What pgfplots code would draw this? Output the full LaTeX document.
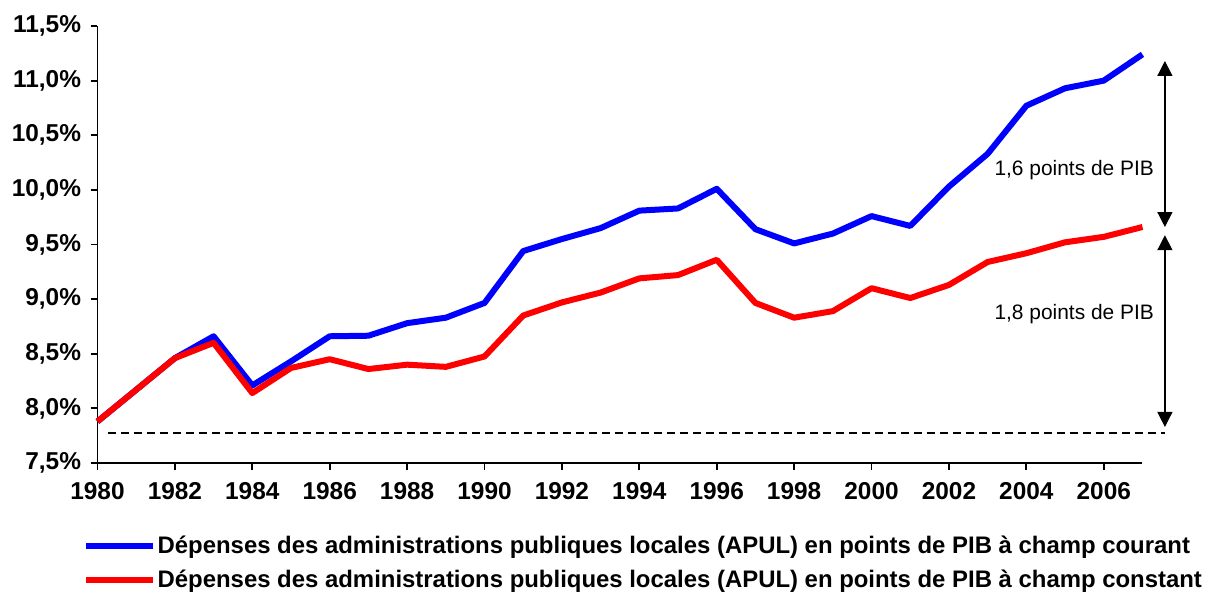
\documentclass[border=0pt]{standalone}
\usepackage{fontspec}
\setmainfont{Liberation Sans}
\usepackage{pgfplots}
\pgfplotsset{compat=1.18}
\usetikzlibrary{arrows.meta}
\definecolor{cblue}{RGB}{0,0,255}
\definecolor{cred}{RGB}{255,0,0}
\begin{document}
\begin{tikzpicture}[x=1bp,y=1bp]
\useasboundingbox (-97.5bp,-132bp) rectangle (1111.5bp,463bp);
\begin{axis}[
  at={(0,0)}, anchor=south west,
  scale only axis, width=1045bp, height=437bp,
  xmin=1980, xmax=2007, ymin=7.5, ymax=11.5,
  axis x line=bottom, axis y line=left,
  axis line style={-, line width=1.8bp, black},
  xtick={1980,1982,1984,1986,1988,1990,1992,1994,1996,1998,2000,2002,2004,2006},
  xticklabels={1980,1982,1984,1986,1988,1990,1992,1994,1996,1998,2000,2002,2004,2006},
  ytick={7.5,8,8.5,9,9.5,10,10.5,11,11.5},
  yticklabels={{7,5\%},{8,0\%},{8,5\%},{9,0\%},{9,5\%},{10,0\%},{10,5\%},{11,0\%},{11,5\%}},
  tick align=outside, major tick length=7bp,
  tick style={line width=1.8bp, black},
  ticklabel style={font=\fontsize{24.5}{28}\selectfont\bfseries},
  xticklabel style={yshift=-9bp},
  yticklabel style={xshift=-6bp},
  clip=false,
  legend cell align=left,
  legend style={draw=none, fill=none, inner sep=0pt, outer sep=0pt,
    at={(-0.0139,-0.1626)}, anchor=north west,
    font=\fontsize{24}{28}\selectfont\bfseries,
    nodes={inner sep=2bp}, row sep=11bp},
  legend image code/.code={\draw[#1, line width=6bp] (0bp,0bp) -- (66.7bp,0bp);},
]
\addplot[cblue, line width=6bp, line join=round] coordinates {
(1980,7.88) (1981,8.17) (1982,8.46) (1983,8.66) (1984,8.21) (1985,8.43)
(1986,8.66) (1987,8.665) (1988,8.78) (1989,8.83) (1990,8.965) (1991,9.44)
(1992,9.55) (1993,9.65) (1994,9.81) (1995,9.83) (1996,10.01) (1997,9.64)
(1998,9.51) (1999,9.60) (2000,9.76) (2001,9.67) (2002,10.03) (2003,10.33)
(2004,10.77) (2005,10.93) (2006,11.00) (2007,11.24)};
\addlegendentry{Dépenses des administrations publiques locales (APUL) en points de PIB à champ courant}
\addplot[cred, line width=6bp, line join=round] coordinates {
(1980,7.88) (1981,8.17) (1982,8.46) (1983,8.60) (1984,8.14) (1985,8.37)
(1986,8.45) (1987,8.36) (1988,8.40) (1989,8.38) (1990,8.475) (1991,8.85)
(1992,8.97) (1993,9.06) (1994,9.19) (1995,9.22) (1996,9.36) (1997,8.965)
(1998,8.83) (1999,8.89) (2000,9.10) (2001,9.01) (2002,9.13) (2003,9.34)
(2004,9.42) (2005,9.52) (2006,9.57) (2007,9.66)};
\addlegendentry{Dépenses des administrations publiques locales (APUL) en points de PIB à champ constant}
\addplot[black, line width=1.3bp, dash pattern=on 8bp off 5bp, forget plot] coordinates {(1980.27,7.775) (2007.58,7.775)};
\draw[line width=1.3bp, {Triangle[width=15bp,length=15bp]}-{Triangle[width=15bp,length=15bp]}] (axis cs:2007.58,11.18) -- (axis cs:2007.58,9.66);
\draw[line width=1.3bp, {Triangle[width=15bp,length=15bp]}-{Triangle[width=15bp,length=15bp]}] (axis cs:2007.58,9.585) -- (axis cs:2007.58,7.83);
\node[anchor=east, inner sep=0pt, font=\fontsize{21}{25}\selectfont] at (axis cs:2007.30,10.18) {1,6 points de PIB};
\node[anchor=east, inner sep=0pt, font=\fontsize{21}{25}\selectfont] at (axis cs:2007.30,8.866) {1,8 points de PIB};
\end{axis}
\end{tikzpicture}
\end{document}
